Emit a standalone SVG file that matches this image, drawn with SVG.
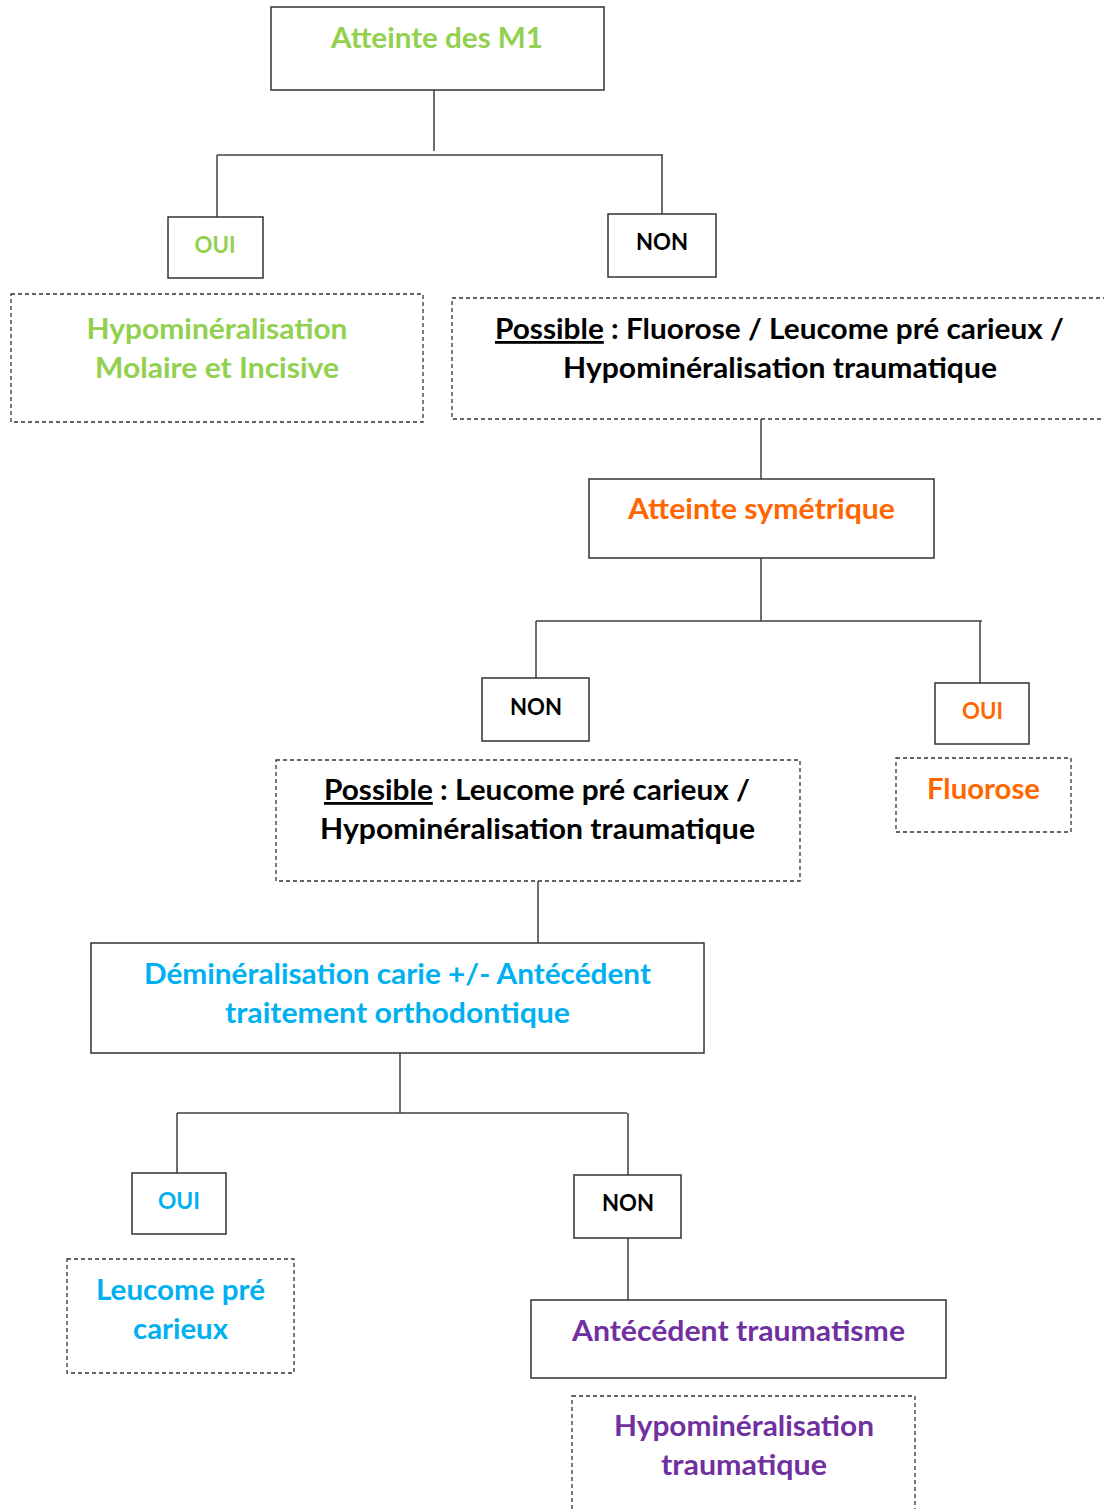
<svg xmlns="http://www.w3.org/2000/svg" width="1104" height="1509" viewBox="0 0 1104 1509">
<style>
.box{fill:#fff;stroke:#333;stroke-width:1.5}
.dash{fill:#fff;stroke:#333;stroke-width:1.3;stroke-dasharray:4 3}
.ln{fill:none;stroke:#404040;stroke-width:1.5}
text{font-family:Lato,"Open Sans","Liberation Sans",sans-serif;font-weight:bold;text-anchor:middle}
.big{font-size:28px}
.sm{font-size:22px}
.g{fill:#92D050}.k{fill:#000}.o{fill:#FF6600}.b{fill:#00B0F0}.p{fill:#7030A0}
.u{text-decoration:underline}
</style>
<rect width="1104" height="1509" fill="#fff"/>
<g id="connectors">
<path class="ln" d="M434 90V151M217 155H663M217 155V217M662 155V214"/>
<path class="ln" d="M761 419V479"/>
<path class="ln" d="M761 558V621M536 621H982M536 621V678M980 621V683"/>
<path class="ln" d="M538 881V943"/>
<path class="ln" d="M400 1053V1113M177 1113H627M177 1113V1173M628 1113V1175"/>
<path class="ln" d="M628 1238V1300"/>
</g>
<g id="n1"><rect class="box" x="271" y="7" width="333" height="83"/><text class="big g" x="437" y="48" textLength="212" lengthAdjust="spacingAndGlyphs">Atteinte des M1</text></g>
<g id="n2"><rect class="box" x="168" y="217" width="95" height="61"/><text class="sm g" x="215" y="253" textLength="41" lengthAdjust="spacingAndGlyphs">OUI</text></g>
<g id="n3"><rect class="box" x="608" y="214" width="108" height="63"/><text class="sm k" x="662" y="250" textLength="52" lengthAdjust="spacingAndGlyphs">NON</text></g>
<g id="n4"><rect class="dash" x="11" y="294" width="412" height="128"/><text class="big g" x="217" y="339" textLength="261" lengthAdjust="spacingAndGlyphs">Hypominéralisation</text><text class="big g" x="217" y="378" textLength="244" lengthAdjust="spacingAndGlyphs">Molaire et Incisive</text></g>
<g id="n5"><rect class="dash" x="452" y="298" width="670" height="121"/><text class="big k" x="779.5" y="339" textLength="569" lengthAdjust="spacingAndGlyphs"><tspan class="u">Possible</tspan> : Fluorose / Leucome pré carieux /</text><text class="big k" x="780" y="378" textLength="434" lengthAdjust="spacingAndGlyphs">Hypominéralisation traumatique</text></g>
<g id="n6"><rect class="box" x="589" y="479" width="345" height="79"/><text class="big o" x="761.5" y="519" textLength="267" lengthAdjust="spacingAndGlyphs">Atteinte symétrique</text></g>
<g id="n7"><rect class="box" x="482" y="678" width="107" height="63"/><text class="sm k" x="536" y="715" textLength="52" lengthAdjust="spacingAndGlyphs">NON</text></g>
<g id="n8"><rect class="box" x="935" y="683" width="94" height="61"/><text class="sm o" x="982.5" y="719" textLength="41" lengthAdjust="spacingAndGlyphs">OUI</text></g>
<g id="n9"><rect class="dash" x="896" y="758" width="175" height="74"/><text class="big o" x="983.5" y="799" textLength="113" lengthAdjust="spacingAndGlyphs">Fluorose</text></g>
<g id="n10"><rect class="dash" x="276" y="760" width="524" height="121"/><text class="big k" x="537" y="800" textLength="426" lengthAdjust="spacingAndGlyphs"><tspan class="u">Possible</tspan> : Leucome pré carieux /</text><text class="big k" x="537.5" y="839" textLength="435" lengthAdjust="spacingAndGlyphs">Hypominéralisation traumatique</text></g>
<g id="n11"><rect class="box" x="91" y="943" width="613" height="110"/><text class="big b" x="397.5" y="984" textLength="507" lengthAdjust="spacingAndGlyphs">Déminéralisation carie +/- Antécédent</text><text class="big b" x="397.5" y="1023" textLength="345" lengthAdjust="spacingAndGlyphs">traitement orthodontique</text></g>
<g id="n12"><rect class="box" x="132" y="1173" width="94" height="61"/><text class="sm b" x="179" y="1209" textLength="42" lengthAdjust="spacingAndGlyphs">OUI</text></g>
<g id="n13"><rect class="box" x="574" y="1175" width="107" height="63"/><text class="sm k" x="628" y="1211" textLength="52" lengthAdjust="spacingAndGlyphs">NON</text></g>
<g id="n14"><rect class="dash" x="67" y="1259" width="227" height="114"/><text class="big b" x="180.5" y="1300" textLength="169" lengthAdjust="spacingAndGlyphs">Leucome pré</text><text class="big b" x="180.5" y="1339" textLength="95" lengthAdjust="spacingAndGlyphs">carieux</text></g>
<g id="n15"><rect class="box" x="531" y="1300" width="415" height="78"/><text class="big p" x="738.5" y="1341" textLength="333" lengthAdjust="spacingAndGlyphs">Antécédent traumatisme</text></g>
<g id="n16"><rect class="dash" x="572" y="1396" width="343" height="130"/><text class="big p" x="744" y="1436" textLength="260" lengthAdjust="spacingAndGlyphs">Hypominéralisation</text><text class="big p" x="744" y="1475" textLength="166" lengthAdjust="spacingAndGlyphs">traumatique</text></g>
</svg>
